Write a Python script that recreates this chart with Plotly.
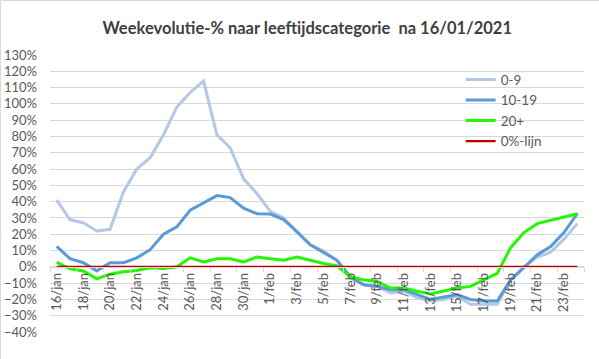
import plotly.graph_objects as go

dates = ["16/jan", "17/jan", "18/jan", "19/jan", "20/jan", "21/jan", "22/jan", "23/jan",
         "24/jan", "25/jan", "26/jan", "27/jan", "28/jan", "29/jan", "30/jan", "31/jan",
         "1/feb", "2/feb", "3/feb", "4/feb", "5/feb", "6/feb", "7/feb", "8/feb",
         "9/feb", "10/feb", "11/feb", "12/feb", "13/feb", "14/feb", "15/feb", "16/feb",
         "17/feb", "18/feb", "19/feb", "20/feb", "21/feb", "22/feb", "23/feb", "24/feb"]

age_0_9 = [41, 29, 27, 22, 23, 46, 60, 67, 81, 98, 107, 114, 81, 73, 54, 45,
           34, 30, 21, 13.5, 9.5, 4, -7, -11, -12, -16, -15, -19, -21, -20, -18, -23,
           -23, -23, -8, 0, 6, 9, 17, 26.5]

age_10_19 = [12.5, 5, 2.5, -2.5, 2.5, 2.5, 5.5, 10.5, 20, 24.5, 34.7, 39, 43.7, 42.5, 36, 32.6,
             32.4, 29, 21.7, 13.5, 9, 4, -6, -11, -12, -14, -14, -17, -20, -18.5, -17, -20,
             -21, -21, -8, -0.5, 7.4, 12.5, 21, 32.6]

age_20_plus = [2.7, -1.2, -2.5, -7.4, -4.5, -3, -2.3, -0.6, -1, 0, 5.5, 3, 5, 5, 3, 6,
               5, 4, 6, 4, 2, 0.6, -6, -8, -9, -13, -13, -15, -16.6, -14.8, -13, -12,
               -8, -4, 11.7, 21, 26.5, 28.5, 30.7, 32.6]

zero_line = [0] * len(dates)

series = [
    ("0-9", age_0_9, "#B4C7E7", 3),
    ("10-19", age_10_19, "#5B9BD5", 3),
    ("20+", age_20_plus, "#22F800", 3),
    ("0%-lijn", zero_line, "#C00000", 2.2),
]

font_family = "Lato, 'Open Sans', sans-serif"
gray_text = "#595959"
grid = "#D9D9D9"

fig = go.Figure()
for name, vals, color, width in series:
    fig.add_trace(go.Scatter(x=dates, y=vals, name=name, mode="lines",
                             line=dict(color=color, width=width)))

fig.update_layout(
    width=599, height=359,
    margin=dict(l=50, r=15, t=55, b=27, autoexpand=False),
    paper_bgcolor="white", plot_bgcolor="white",
    font=dict(family=font_family, color=gray_text, size=13),
    title=dict(text="<b>Weekevolutie-% naar leeftijdscategorie  na 16/01/2021</b>",
               x=0.513, xanchor="center", y=0.922, yanchor="middle",
               font=dict(size=16.5, color="#404040", family=font_family)),
    showlegend=True,
    legend=dict(x=0.769, y=0.967, xanchor="left", yanchor="top",
                bgcolor="rgba(0,0,0,0)", font=dict(size=13.5, color=gray_text),
                tracegroupgap=0),
    xaxis=dict(type="category", anchor="free", position=40 / 170, automargin=False,
               range=[-0.5, len(dates) - 0.5],
               showgrid=False, showline=True, linecolor=grid, linewidth=1,
               tickangle=-90, dtick=2, tickson="boundaries",
               ticks="outside", ticklen=4, tickcolor=grid,
               tickfont=dict(size=13, color=gray_text), zeroline=False),
    yaxis=dict(range=[-40, 130], dtick=10, ticksuffix="%", automargin=False,
               showgrid=True, gridcolor=grid, gridwidth=1,
               zeroline=False, showline=False, ticks="",
               ticklabelstandoff=12,
               tickfont=dict(size=13, color=gray_text)),
    shapes=[
        dict(type="line", xref="paper", yref="paper",
             x0=(0.5 - 50) / 534, x1=(0.5 - 50) / 534,
             y0=(332 - 359) / 277, y1=(332 - 0.5) / 277,
             line=dict(color=grid, width=1)),
        dict(type="line", xref="paper", yref="paper",
             x0=(0.5 - 50) / 534, x1=(599 - 50) / 534,
             y0=(332 - 0.5) / 277, y1=(332 - 0.5) / 277,
             line=dict(color=grid, width=1)),
    ],
)

fig.write_html("out.html", config={"displayModeBar": False},
               post_script="document.body.style.margin='0';document.body.style.overflow='hidden';")
